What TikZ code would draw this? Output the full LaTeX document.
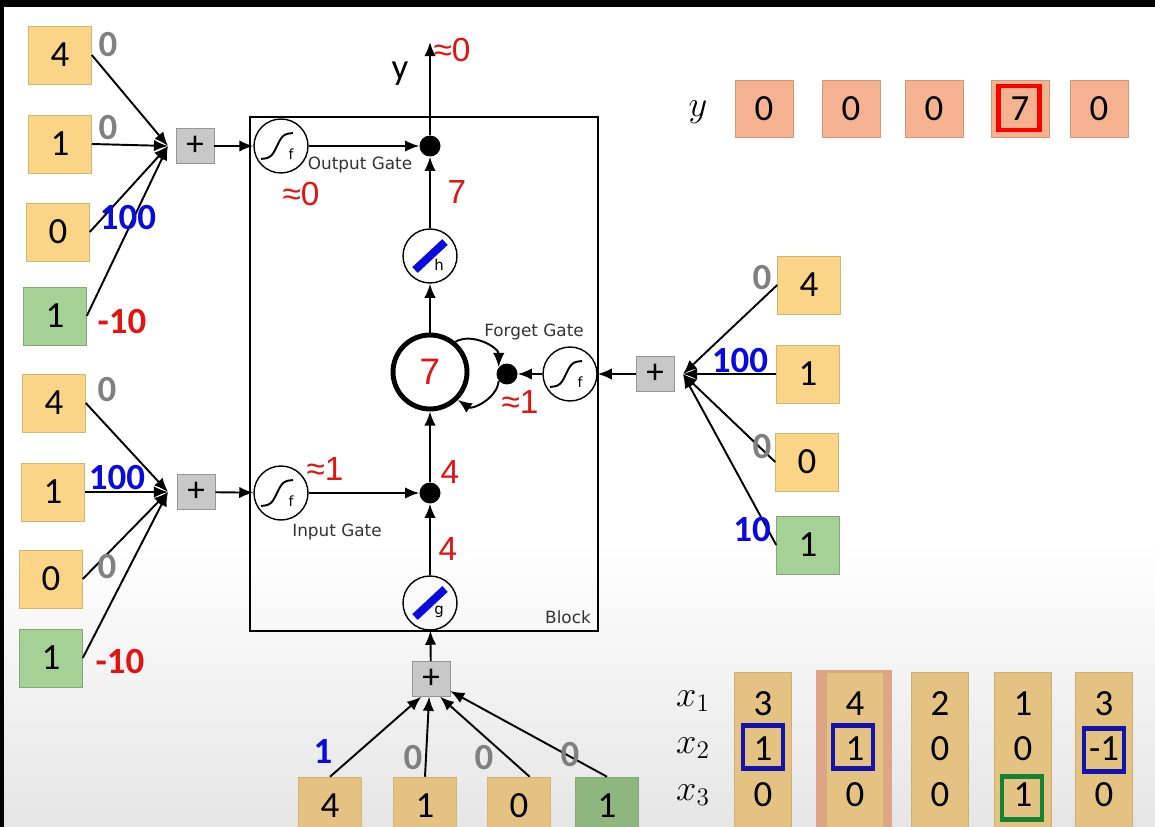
\documentclass[tikz,border=0pt]{standalone}
\usepackage{fontspec}
\setmainfont{Carlito}
\newfontfamily\dvsans{DejaVu Sans}
\newfontfamily\lsans{Liberation Sans}
\usetikzlibrary{arrows.meta}

\definecolor{boxorange}{RGB}{250,212,135}
\definecolor{boxgreen}{RGB}{165,208,150}
\definecolor{boxtan}{RGB}{228,194,130}
\definecolor{boxgreendark}{RGB}{142,182,126}
\definecolor{boxsalmon}{RGB}{245,178,145}
\definecolor{framesalmon}{RGB}{222,165,135}
\definecolor{plusgray}{RGB}{200,200,200}
\definecolor{wred}{RGB}{225,20,20}
\definecolor{wblue}{RGB}{10,10,220}
\definecolor{wgray}{RGB}{128,128,128}
\definecolor{markblue}{RGB}{20,20,170}
\definecolor{markgreen}{RGB}{20,130,50}

\tikzset{
  inbox/.style={rectangle, fill=boxorange, draw=boxorange!85!black, line width=0.3pt,
    minimum width=1.26cm, minimum height=1.16cm, font=\fontsize{21}{23}\selectfont},
  biasbox/.style={inbox, fill=boxgreen, draw=boxgreen!80!black},
  plusbox/.style={rectangle, fill=plusgray, draw=plusgray!75!black, line width=0.3pt,
    minimum width=0.76cm, minimum height=0.7cm, font=\fontsize{20}{22}\selectfont},
  gatecirc/.style={circle, draw, line width=0.8pt, minimum size=1.08cm, inner sep=0pt},
  mult/.style={circle, fill=black, minimum size=0.42cm, inner sep=0pt},
  wlabel/.style={font=\fontsize{21}{23}\selectfont\bfseries},
  rednum/.style={text=wred, font=\lsans\fontsize{19}{21}\selectfont},
  gatetext/.style={text=black!80, font=\dvsans\fontsize{9.6}{11}\selectfont},
  wire/.style={line width=1.1pt, -{Latex[length=8pt,width=6.5pt]}},
  ybox/.style={rectangle, fill=boxsalmon, draw=boxsalmon!85!black, line width=0.3pt,
    minimum width=1.16cm, minimum height=1.14cm, font=\fontsize{21}{23}\selectfont},
  colbox/.style={rectangle, fill=boxtan, draw=boxtan!90!black, line width=0.3pt,
    minimum width=1.14cm, minimum height=3.6cm},
  markbox/.style={rectangle, line width=2.4pt, minimum width=0.8cm, minimum height=0.86cm},
  valtext/.style={font=\fontsize{21}{23}\selectfont},
}

\begin{document}
\begin{tikzpicture}[x=0.02cm, y=-0.02cm]
      \useasboundingbox (0,0) rectangle (1155,827);
      \fill[black] (0,0) rectangle (1155,827);
      \fill[white] (4,7) rectangle (1155,827);
      \shade[top color=white, bottom color=black!10] (4,540) rectangle (1155,827);

      % the block with its gates
      \draw[line width=1.4pt] (250,117) rectangle (598,631);
      \node[gatetext] (blk) at (568,617) {Block};
      \node[gatecirc] (og) at (281,146) {};
      \node[gatecirc] (ig) at (281,493) {};
      \node[gatecirc] (fg) at (570,374) {};
      \node[gatecirc] (hh) at (430,256) {};
      \node[gatecirc] (gg) at (430,603) {};
      \node[circle, draw, line width=2.8pt, minimum size=1.48cm, text=wred,
        font=\lsans\fontsize{21}{23}\selectfont] (cell) at (430,372) {7};
      \node[mult] (om) at (430,146) {};
      \node[mult] (im) at (430,493) {};
      \node[mult] (fm) at (507,374) {};
      \foreach \g in {og,ig,fg}{
        \draw[line width=1.1pt, shift={(\g.center)}, domain=-1:1, samples=30, variable=\t]
          plot ({-4+16*\t},{-13*tanh(2.6*\t)});
        \node[font=\dvsans\fontsize{8}{9}\selectfont] at ([shift={(10,8)}]\g.center) {f};
      }
      \foreach \g/\l in {hh/h,gg/g}{
        \draw[wblue, line width=4.5pt] ([shift={(-15,14)}]\g.center) -- ([shift={(15,-14)}]\g.center);
        \node[font=\dvsans\fontsize{8.5}{9}\selectfont] at ([shift={(9,9)}]\g.center) {\l};
      }
      \draw[wire] (og) -- (om);
      \draw[wire] (ig) -- (im);
      \draw[wire] (fg) -- (fm);
      \draw[wire] (gg) -- (im);
      \draw[wire] (im) -- (cell);
      \draw[wire] (cell) -- (hh);
      \draw[wire] (hh) -- (om);
      \coordinate (yout) at (430,42);
      \draw[wire] (om) -- (yout);
      \draw[wire] (cell.50) to[bend left=60] (fm.140);
      \draw[wire] (fm.220) to[bend left=60] (cell.-45);

      \node[gatetext] (otxt) at (360,165) {Output Gate};
      \node[gatetext] (itxt) at (337,532) {Input Gate};
      \node[gatetext] (ftxt) at (534,332) {Forget Gate};
      \node[rednum] (ov) at (301,194) {≈0};
      \node[rednum] (yv) at (452,50) {≈0};
      \node[rednum] (hv) at (457,192) {7};
      \node[rednum] (fv) at (520,402) {≈1};
      \node[rednum] (iv) at (325,469) {≈1};
      \node[rednum] (imv) at (450,472) {4};
      \node[rednum] (gv) at (448,549) {4};
      \node[font=\fontsize{21}{23}\selectfont] (ylab) at (400,74) {y};

      % sums in front of the gates
      \node[plusbox] (op) at (195,146) {+};
      \node[plusbox] (ip) at (196,492) {+};
      \node[plusbox] (fp) at (655,374) {+};
      \node[plusbox] (gp) at (431,679) {+};
      \draw[wire] (op) -- (og);
      \draw[wire] (ip) -- (ig);
      \draw[wire] (fp) -- (fg);
      \draw[wire] (gp) -- (gg);
      \coordinate (oc) at (168,146);
      \coordinate (ic) at (168,492);
      \coordinate (fc) at (683,374);

      % inputs of the output gate
      \node[inbox] (o1) at (60,55) {4};
      \node[inbox] (o2) at (60,144) {1};
      \node[inbox] (o3) at (58,232) {0};
      \node[biasbox] (o4) at (55,316) {1};
      \foreach \b in {o1,o2,o3,o4} \draw[wire] (\b.east) -- (oc);
      \node[wlabel, text=wgray] (o1w) at (108,45) {0};
      \node[wlabel, text=wgray] (o2w) at (108,128) {0};
      \node[wlabel, text=wblue] (o3w) at (128,218) {100};
      \node[wlabel, text=wred] (o4w) at (122,322) {-10};

      % inputs of the input gate
      \node[inbox] (i1) at (54,403) {4};
      \node[inbox] (i2) at (53,492) {1};
      \node[inbox] (i3) at (51,579) {0};
      \node[biasbox] (i4) at (51,658) {1};
      \foreach \b in {i1,i2,i3,i4} \draw[wire] (\b.east) -- (ic);
      \node[wlabel, text=wgray] (i1w) at (107,390) {0};
      \node[wlabel, text=wblue] (i2w) at (117,478) {100};
      \node[wlabel, text=wgray] (i3w) at (107,567) {0};
      \node[wlabel, text=wred] (i4w) at (120,662) {-10};

      % inputs of the forget gate
      \node[inbox] (f1) at (809,285) {4};
      \node[inbox] (f2) at (808,374) {1};
      \node[inbox] (f3) at (807,462) {0};
      \node[biasbox] (f4) at (808,545) {1};
      \foreach \b in {f1,f2,f3,f4} \draw[wire] (\b.west) -- (fc);
      \node[wlabel, text=wgray] (f1w) at (762,278) {0};
      \node[wlabel, text=wblue] (f2w) at (740,361) {100};
      \node[wlabel, text=wgray] (f3w) at (762,447) {0};
      \node[wlabel, text=wblue] (f4w) at (752,530) {10};

      % inputs of the cell
      \node[inbox, fill=boxtan] (g1) at (330,806) {4};
      \node[inbox, fill=boxtan] (g2) at (425,806) {1};
      \node[inbox, fill=boxtan] (g3) at (519,806) {0};
      \node[biasbox, fill=boxgreendark] (g4) at (607,806) {1};
      \draw[wire] (g1.north) -- (gp.241);
      \draw[wire] (g2.north) -- (gp.264);
      \draw[wire] (g3.70) -- (gp.297);
      \draw[wire] (g4.north) -- (gp.328);
      \node[wlabel, text=wblue] (g1w) at (323,752) {1};
      \node[wlabel, text=wgray] (g2w) at (413,758) {0};
      \node[wlabel, text=wgray] (g3w) at (484,758) {0};
      \node[wlabel, text=wgray] (g4w) at (570,755) {0};

      % output sequence
      \node[font=\fontsize{22}{24}\selectfont] (ytop) at (698,112) {$y$};
      \foreach \n/\x/\v in {1/764/0,2/851/0,3/934/0,4/1020/7,5/1099/0}
        \node[ybox] (y\n) at (\x,109) {\v};
      \node[markbox, draw=red, minimum width=0.82cm, minimum height=0.88cm] (y4m) at (1019,108) {};

      % input sequence
      \node[fill=framesalmon, minimum width=1.52cm, minimum height=3.8cm] (c2f) at (854,765) {};
      \foreach \c/\x/\a/\b/\d in {1/763/3/1/0,2/855/4/1/0,3/940/2/0/0,4/1023/1/0/1,5/1104/3/-1/0}{
        \node[colbox] (c\c) at (\x,762) {};
        \node[valtext] (c\c-a) at (\x,704) {\a};
        \node[valtext] (c\c-b) at (\x,749) {\b};
        \node[valtext] (c\c-c) at (\x,795) {\d};
      }
      \node[font=\fontsize{22}{24}\selectfont] (x1) at (693,701) {$x_1$};
      \node[font=\fontsize{22}{24}\selectfont] (x2) at (693,748) {$x_2$};
      \node[font=\fontsize{22}{24}\selectfont] (x3) at (693,795) {$x_3$};
      \node[markbox, draw=markblue] (m1) at (763,747) {};
      \node[markbox, draw=markblue] (m2) at (853,747) {};
      \node[markbox, draw=markblue] (m5) at (1104,750) {};
      \node[markbox, draw=markgreen] (m4) at (1022,798) {};
\end{tikzpicture}
\end{document}
